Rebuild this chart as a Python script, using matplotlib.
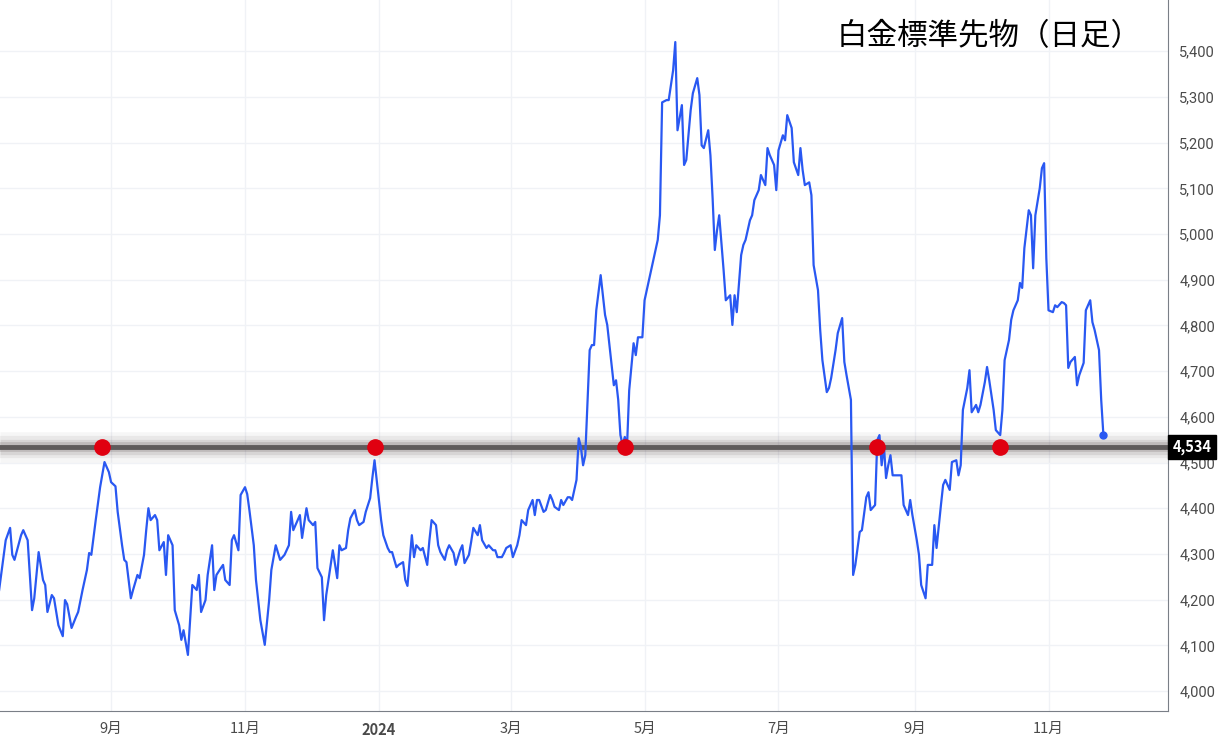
import matplotlib
matplotlib.use("Agg")
import matplotlib.pyplot as plt
import pandas as pd

plt.rcParams['font.family'] = ['Noto Sans CJK JP', 'DejaVu Sans']

base = pd.Timestamp("2023-09-01")
days = [-51,-48,-46,-45,-44,-41,-40,-38,-36,-35,-33,-31,-30,-29,-27,-26,-24,-22,-21,-20,-18,-16,-15,-13,-11,-10,-9,-7,-5,-3,-1,0,2,3,5,6,7,9,10,12,13,15,16,17,18,20,21,22,24,25,26,28,29,31,32,33,35,36,37,39,40,41,43,44,46,47,48,50,51,52,54,55,56,58,59,61,62,63,65,66,68,70,72,73,75,77,79,81,82,83,85,86,87,89,90,92,93,94,96,97,98,100,101,103,104,105,107,108,109,111,112,113,115,116,118,119,120,122,123,124,126,127,128,130,131,133,134,135,137,138,139,141,142,144,145,146,148,149,150,152,153,154,156,157,159,160,161,163,164,165,167,168,169,171,172,174,175,176,178,179,180,182,183,185,186,187,189,190,191,192,193,194,195,197,198,200,201,202,204,205,206,208,209,210,212,213,214,215,216,218,219,220,221,223,224,225,226,227,228,229,230,231,232,233,234,235,236,238,239,240,242,243,245,246,247,249,250,251,253,254,256,257,258,260,261,262,264,265,267,268,269,270,272,273,274,275,276,277,279,280,282,283,284,285,287,288,289,291,292,293,295,296,298,299,300,302,303,304,306,307,308,310,311,313,314,315,316,318,319,320,322,323,324,326,327,328,330,331,333,334,335,337,338,339,341,342,344,345,346,348,349,350,351,352,353,354,355,356,357,359,360,361,363,364,365,367,368,369,371,372,374,375,376,378,379,380,382,383,385,386,387,388,390,391,392,394,395,396,398,399,400,402,403,405,406,407,409,410,411,413,414,415,416,418,419,420,421,423,424,425,426,427,429,430,431,433,434,435,436,437,439,440,441,443,444,446,447,448,450,451,452]
prices = [4221,4330,4357,4298,4287,4341,4352,4330,4177,4203,4304,4243,4232,4173,4210,4203,4144,4120,4199,4190,4138,4162,4173,4221,4265,4302,4298,4374,4446,4501,4479,4457,4448,4392,4319,4287,4282,4203,4221,4254,4247,4298,4352,4400,4374,4385,4374,4308,4326,4254,4341,4319,4177,4144,4112,4133,4079,4155,4232,4221,4254,4173,4199,4254,4319,4221,4254,4269,4276,4243,4232,4330,4341,4308,4429,4446,4431,4396,4319,4243,4155,4101,4199,4265,4319,4287,4298,4319,4392,4352,4374,4385,4335,4400,4374,4363,4370,4269,4249,4155,4210,4276,4308,4247,4319,4308,4313,4352,4378,4396,4374,4363,4370,4392,4422,4466,4505,4418,4374,4341,4313,4304,4304,4271,4276,4282,4243,4230,4341,4293,4319,4308,4313,4276,4330,4374,4363,4319,4304,4287,4308,4319,4302,4276,4308,4319,4280,4298,4326,4357,4341,4363,4330,4313,4319,4308,4308,4293,4293,4302,4313,4319,4293,4319,4341,4374,4363,4396,4407,4418,4385,4418,4418,4392,4396,4429,4418,4403,4396,4418,4407,4424,4424,4418,4462,4553,4534,4494,4516,4746,4757,4757,4833,4910,4866,4823,4801,4757,4713,4669,4680,4637,4560,4538,4556,4534,4658,4761,4735,4774,4774,4855,4899,4921,4943,4987,5041,5288,5293,5293,5358,5420,5227,5282,5151,5162,5271,5308,5341,5304,5194,5188,5227,5172,5078,4965,5008,5041,4921,4855,4866,4801,4866,4829,4954,4976,4987,5030,5041,5074,5096,5129,5107,5188,5173,5151,5096,5183,5216,5205,5260,5232,5157,5129,5188,5140,5107,5113,5085,4932,4877,4790,4724,4654,4663,4685,4746,4783,4816,4720,4691,4637,4254,4276,4348,4352,4424,4435,4396,4407,4549,4560,4494,4538,4466,4494,4516,4472,4472,4472,4472,4407,4385,4418,4385,4330,4298,4232,4203,4276,4276,4363,4313,4407,4451,4462,4440,4501,4505,4472,4494,4615,4663,4702,4610,4626,4610,4626,4676,4709,4680,4615,4571,4560,4615,4724,4768,4812,4833,4855,4893,4882,4969,5052,5041,4925,5041,5100,5144,5155,4947,4833,4829,4844,4840,4851,4849,4844,4707,4720,4731,4669,4691,4718,4833,4855,4807,4790,4746,4637,4560]
touch_days = [-4, 120, 234, 349, 405]
level = 4534
title = "白金標準先物（日足）"
yticks = list(range(4000, 5401, 100))
tick_months = ["2023-09-01","2023-11-01","2024-01-01","2024-03-01","2024-05-01","2024-07-01","2024-09-01","2024-11-01"]
tick_labels = ["9月","11月","2024","3月","5月","7月","9月","11月"]

dates = [base + pd.Timedelta(days=d) for d in days]
tdates = [base + pd.Timedelta(days=d) for d in touch_days]

fig = plt.figure(figsize=(12.29, 7.47), dpi=100)
ax = fig.add_axes([0, 0.048, 0.9505, 0.952])
ax.set_facecolor("white")
ax.set_xlim(base - pd.Timedelta(days=50.6), base + pd.Timedelta(days=481.5))
ax.set_ylim(3956, 5512)

xt = [pd.Timestamp(t) for t in tick_months]
for m in xt:
    ax.axvline(m, color="#f0f2f6", lw=1, zorder=0)
for y in yticks:
    ax.axhline(y, color="#f0f2f6", lw=1, zorder=0)

for w, a in [(22, 0.05), (16, 0.08), (11, 0.12), (7, 0.2)]:
    ax.axhline(level, color="#5a4f4f", lw=w, alpha=a, zorder=2, solid_capstyle="butt")
ax.axhline(level, color="#5f5b5b", lw=3.5, zorder=3)

ax.plot(dates, prices, color="#2958f2", lw=1.6, zorder=4)
ax.plot([dates[-1]], [prices[-1]], "o", color="#2958f2", ms=5, zorder=5)
ax.plot(tdates, [level]*len(tdates), "o", color="#e00010", ms=11, zorder=6)

ax.yaxis.tick_right()
ax.set_yticks(yticks)
ax.set_yticklabels([f"{v:,}" for v in yticks], color="#4a4a4a", fontsize=10.5, family=["Roboto", "DejaVu Sans"])
ax.tick_params(axis="y", length=0, pad=8)
ax.set_xticks(xt)
ax.set_xticklabels(tick_labels, color="#4a4a4a", fontsize=10.5)
for lab in ax.get_xticklabels():
    if lab.get_text() == "2024":
        lab.set_fontweight("bold")
ax.tick_params(axis="x", length=0, pad=8)
for s in ["top", "left"]:
    ax.spines[s].set_visible(False)
ax.spines["right"].set_color("#7a7f87")
ax.spines["bottom"].set_color("#7a7f87")

ax.text(0.977, 0.97, title, transform=ax.transAxes, ha="right", va="top", fontsize=22, color="black")

ax.annotate(f"{level:,}", xy=(1.0, level), xycoords=("axes fraction", "data"),
            xytext=(3, 0), textcoords="offset points", ha="left", va="center",
            fontsize=10.5, fontweight="bold", color="white",
            bbox=dict(boxstyle="square,pad=0.3", fc="black", ec="black"), annotation_clip=False)

fig.savefig("out.png", dpi=100)
